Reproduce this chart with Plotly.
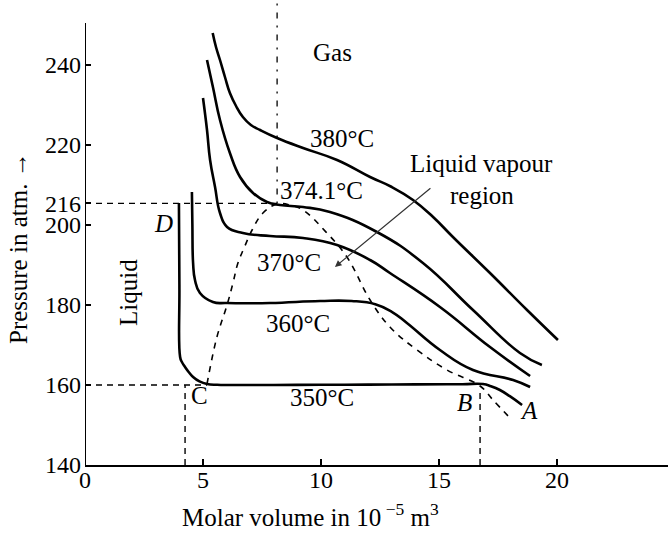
import plotly.graph_objects as go

# Isotherms of water near the critical point (molar volume in 1e-5 m^3, pressure in atm)
v_350 = [3.98, 4.00, 4.03, 4.10, 4.24, 4.40, 4.58, 4.85, 5.17, 5.6, 6.14, 8.0, 10.0, 12.0, 14.0, 16.0, 16.86, 17.2, 17.58, 18.0, 18.52]
p_350 = [205.5, 185.0, 167.0, 165.8, 164.5, 163.2, 162.0, 160.9, 160.25, 160.05, 160.0, 160.0, 160.05, 160.1, 160.15, 160.2, 160.25, 159.7, 158.75, 157.2, 155.0]

v_360 = [4.53, 4.55, 4.58, 4.66, 4.87, 5.42, 6.02, 7.84, 9.96, 11.3, 12.3, 13.0, 13.64, 15.04, 16.44, 18.14, 18.86]
p_360 = [208.25, 200.0, 190.5, 186.25, 183.0, 180.75, 180.5, 180.5, 181.0, 181.0, 180.2, 178.3, 175.5, 168.75, 163.75, 161.25, 159.5]

v_370 = [5.0, 5.17, 5.30, 5.51, 5.72, 6.02, 6.69, 7.84, 9.24, 10.68, 12.08, 12.92, 15.04, 17.16, 18.86]
p_370 = [231.75, 223.75, 216.25, 209.5, 203.0, 199.5, 198.0, 197.25, 196.75, 195.0, 191.25, 188.0, 179.5, 169.5, 162.25]

v_374 = [5.17, 5.42, 5.72, 6.14, 6.57, 7.12, 7.71, 8.26, 9.24, 10.38, 12.37, 14.32, 16.44, 18.43, 19.36]
p_374 = [241.25, 234.5, 226.25, 218.0, 212.0, 208.0, 205.75, 205.0, 204.5, 203.25, 198.25, 190.5, 178.75, 168.0, 165.0]

v_380 = [5.41, 5.55, 5.72, 5.93, 6.14, 6.40, 6.69, 7.03, 7.42, 8.14, 9.24, 10.68, 12.08, 13.0, 13.90, 14.75, 15.59, 17.16, 18.73, 20.04]
p_380 = [248.0, 244.5, 241.25, 237.0, 233.0, 229.75, 227.0, 225.0, 223.75, 221.75, 219.25, 216.25, 212.0, 209.5, 206.25, 202.0, 197.0, 188.0, 178.75, 171.25]

# Boundary of the liquid-vapour region
v_dome = [5.17, 5.59, 6.02, 6.27, 6.48, 6.74, 7.08, 7.54, 8.14, 8.69, 9.24, 10.25, 11.10, 12.08, 12.92, 14.07, 15.34, 16.74, 17.29, 18.09]
p_dome = [160.25, 172.0, 180.0, 185.5, 190.5, 194.25, 198.75, 203.0, 205.25, 205.0, 203.75, 198.0, 192.0, 181.25, 174.5, 168.75, 163.75, 159.75, 156.25, 151.25]

# Critical point and the 350 °C saturation points
v_crit, p_crit = 8.14, 205.4
v_c, v_c_foot, p_sat350 = 5.17, 4.24, 160.0
v_b = 16.74

x_ticks = [0, 5, 10, 15, 20]
y_ticks = [140, 160, 180, 200, p_crit, 220, 240]
y_tick_text = ["140", "160", "180", "200", "216", "220", "240"]

isotherms = [
    (v_350, p_350, "350°C", 10.04, 157.0),
    (v_360, p_360, "360°C", 9.03, 175.5),
    (v_370, p_370, "370°C", 8.64, 190.75),
    (v_374, p_374, "374.1°C", 10.04, 208.75),
    (v_380, p_380, "380°C", 10.89, 221.75),
]

FONT = "Liberation Serif"
FS = 25
TICK_FS = 24

fig = go.Figure()

for v, p, name, lx, ly in isotherms:
    fig.add_trace(go.Scatter(
        x=v, y=p, mode="lines", name=name,
        line=dict(color="black", width=2.6, shape="spline", smoothing=1.3),
        hoverinfo="skip", showlegend=False,
    ))
    fig.add_annotation(x=lx, y=ly, text=name, showarrow=False,
                       font=dict(family=FONT, size=FS, color="black"))

fig.add_trace(go.Scatter(
    x=v_dome, y=p_dome, mode="lines",
    line=dict(color="black", width=1.6, dash="6px,6px", shape="spline", smoothing=1.1),
    hoverinfo="skip", showlegend=False,
))

# Reference lines
dash = dict(color="black", width=1.4, dash="6px,5px")
fig.add_shape(type="line", x0=0, x1=v_crit, y0=p_crit, y1=p_crit, line=dash)
fig.add_shape(type="line", x0=0, x1=v_c, y0=p_sat350, y1=p_sat350, line=dash)
fig.add_shape(type="line", x0=v_c_foot, x1=v_c_foot, y0=140, y1=p_sat350, line=dash)
fig.add_shape(type="line", x0=v_b, x1=v_b, y0=140, y1=p_sat350 - 1, line=dash)
fig.add_shape(type="line", x0=v_crit, x1=v_crit, y0=p_crit, y1=256.25,
              line=dict(color="black", width=1.3, dash="2px,7px,6px,7px"))

# y axis line (stops below the top of the frame)
fig.add_shape(type="line", x0=0, x1=0, y0=140, y1=250.5, line=dict(color="black", width=2))

# Region and point labels
labels = [
    ("Gas", 10.47, 243.25, False),
    ("D", 3.31, 200.5, True),
    ("C", 4.87, 157.5, False),
    ("B", 16.1, 155.75, True),
    ("A", 18.81, 153.75, True),
]
for text, x, y, italic in labels:
    fig.add_annotation(x=x, y=y, text=f"<i>{text}</i>" if italic else text, showarrow=False,
                       font=dict(family=FONT, size=FS, color="black"))

fig.add_annotation(x=1.82, y=183.25, text="Liquid", textangle=-90, showarrow=False,
                   font=dict(family=FONT, size=FS, color="black"))
fig.add_annotation(x=16.82, y=215.5, text="Liquid vapour", showarrow=False,
                   font=dict(family=FONT, size=FS, color="black"))
fig.add_annotation(x=16.82, y=207.5, text="region", showarrow=False,
                   font=dict(family=FONT, size=FS, color="black"))
fig.add_annotation(x=10.59, y=189.5, ax=14.70, ay=209.5, axref="x", ayref="y",
                   text="", showarrow=True, arrowhead=2, arrowsize=1.1,
                   arrowwidth=1.2, arrowcolor="#333333")

# Axis titles
fig.add_annotation(xref="paper", yref="paper", x=(18 - 85) / 583, y=(465 - 248) / 465,
                   xanchor="center", yanchor="middle",
                   text="Pressure in atm. →", textangle=-90, showarrow=False,
                   font=dict(family=FONT, size=FS, color="black"))
fig.add_annotation(xref="paper", yref="paper", x=(310 - 85) / 583, y=(465 - 515) / 465,
                   xanchor="center", yanchor="middle",
                   text="Molar volume in 10<sup> −5</sup> m<sup>3</sup>", showarrow=False,
                   font=dict(family=FONT, size=FS, color="black"))

fig.update_xaxes(range=[0, 583 / 23.6], tickvals=x_ticks, ticks="inside", ticklen=6,
                 tickwidth=1.5, tickcolor="black", showline=True, linecolor="black",
                 linewidth=2, showgrid=False, zeroline=False, ticklabelstandoff=-8,
                 tickfont=dict(family=FONT, size=TICK_FS, color="black"))
fig.update_yaxes(range=[140, 256.25], tickvals=y_ticks, ticktext=y_tick_text,
                 ticks="inside", ticklen=6, tickwidth=1.5, tickcolor="black",
                 showline=False, showgrid=False, zeroline=False, ticklabelstandoff=3,
                 tickfont=dict(family=FONT, size=TICK_FS, color="black"))

fig.update_layout(
    width=668, height=534,
    margin=dict(l=85, r=0, t=0, b=69),
    plot_bgcolor="white", paper_bgcolor="white",
)

fig.write_html("out.html")
